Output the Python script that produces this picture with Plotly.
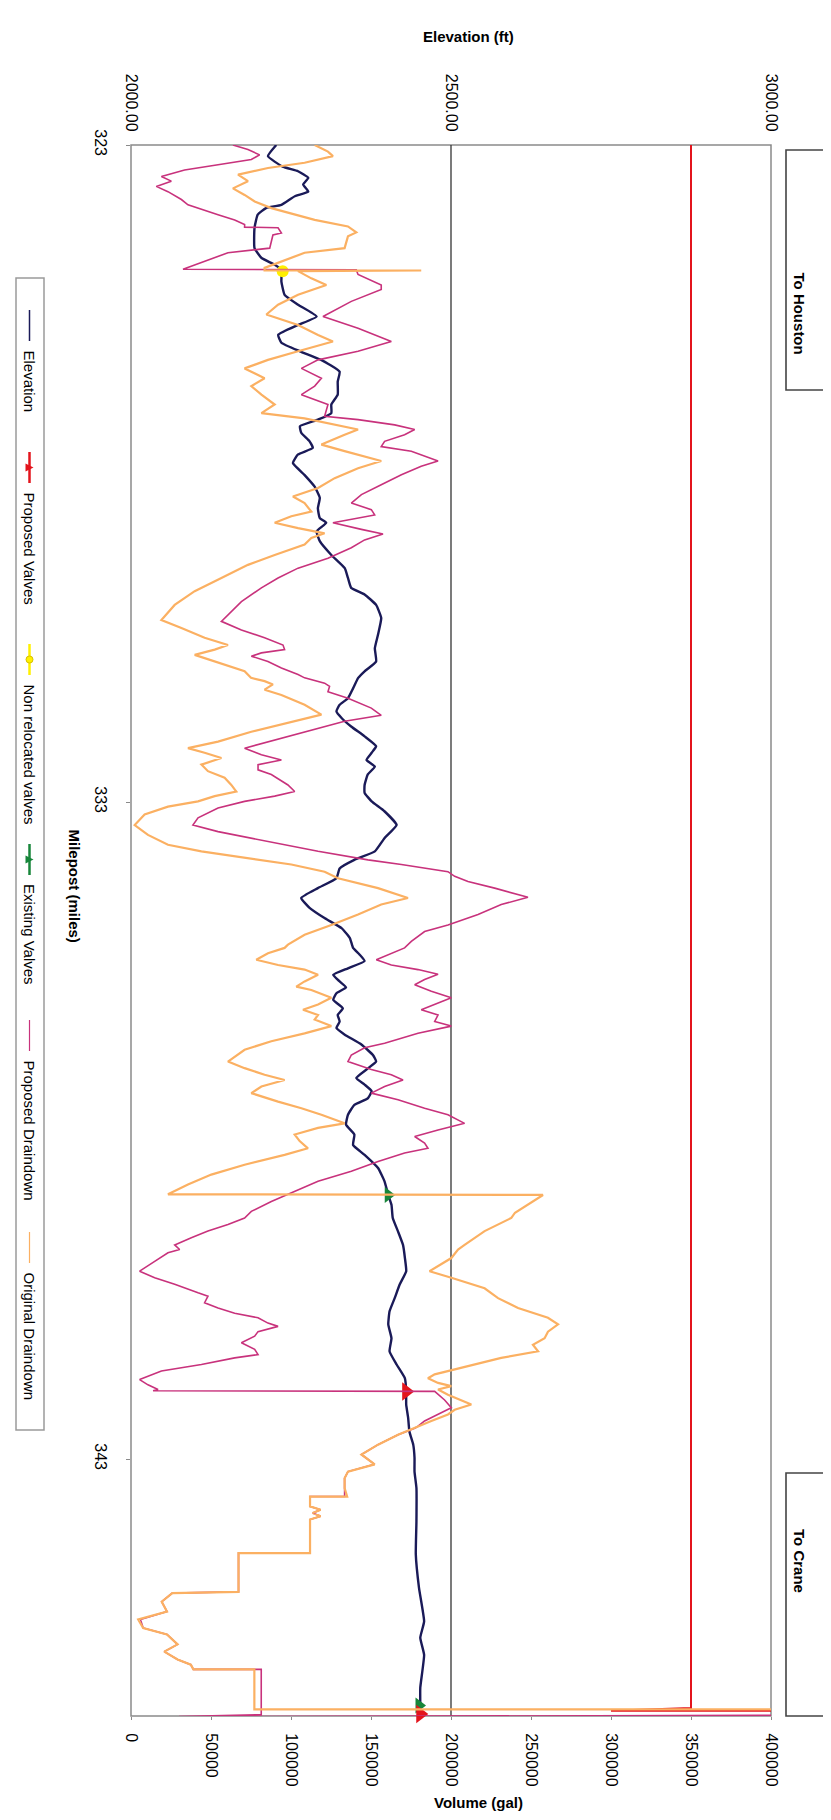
import plotly.graph_objects as go

FONT = "Liberation Sans, Arial, sans-serif"
BLACK = "black"

# ---- data ----
ELEV_MILE = [
    323.00, 323.17, 323.33, 323.40, 323.50, 323.60, 323.71, 323.78, 323.91, 323.96,
    324.06, 324.26, 324.57, 324.72, 324.82, 324.90, 325.08, 325.28, 325.43, 325.61,
    325.74, 325.89, 326.01, 326.14, 326.27, 326.45, 326.60, 326.80, 326.95, 327.08,
    327.18, 327.28, 327.38, 327.51, 327.61, 327.71, 327.84, 328.02, 328.20, 328.37,
    328.53, 328.68, 328.75, 328.88, 329.03, 329.24, 329.44, 329.59, 329.74, 329.84,
    330.00, 330.20, 330.45, 330.66, 330.86, 331.01, 331.11, 331.27, 331.42, 331.52,
    331.62, 331.72, 331.85, 332.00, 332.15, 332.25, 332.36, 332.46, 332.58, 332.74,
    332.86, 332.99, 333.14, 333.35, 333.55, 333.75, 333.88, 334.01, 334.16, 334.31,
    334.46, 334.61, 334.77, 334.92, 335.07, 335.22, 335.32, 335.42, 335.53, 335.63,
    335.73, 335.82, 335.91, 336.01, 336.14, 336.24, 336.34, 336.44, 336.54, 336.69,
    336.85, 336.95, 337.07, 337.20, 337.30, 337.40, 337.51, 337.61, 337.76, 337.91,
    338.06, 338.22, 338.37, 338.57, 338.77, 338.98, 339.13, 339.33, 339.53, 339.74,
    339.94, 340.14, 340.34, 340.55, 340.75, 340.95, 341.16, 341.36, 341.56, 341.77,
    341.97, 342.17, 342.37, 342.58, 342.78, 342.98, 343.19, 343.44, 343.95, 344.45,
    344.96, 345.47, 345.72, 345.98, 346.48, 346.74,
]
ELEV_FT = [
    2227, 2214, 2237, 2261, 2277, 2269, 2277, 2256, 2235, 2211,
    2198, 2193, 2193, 2204, 2224, 2235, 2235, 2240, 2261, 2290,
    2261, 2230, 2235, 2264, 2297, 2326, 2323, 2323, 2313, 2313,
    2292, 2264, 2266, 2279, 2284, 2261, 2253, 2271, 2287, 2295,
    2292, 2295, 2305, 2290, 2295, 2313, 2334, 2339, 2344, 2365,
    2383, 2391, 2386, 2381, 2383, 2365, 2355, 2347, 2339, 2326,
    2321, 2329, 2344, 2365, 2383, 2376, 2368, 2381, 2370, 2365,
    2365, 2376, 2396, 2415, 2396, 2381, 2349, 2326, 2321, 2292,
    2266, 2279, 2303, 2329, 2342, 2347, 2357, 2365, 2339, 2316,
    2326, 2336, 2321, 2316, 2331, 2323, 2326, 2321, 2334, 2360,
    2378, 2383, 2368, 2352, 2365, 2376, 2370, 2349, 2339, 2336,
    2349, 2347, 2365, 2386, 2396, 2402, 2407, 2409, 2417, 2425,
    2428, 2430, 2420, 2412, 2404, 2402, 2407, 2404, 2415, 2428,
    2430, 2430, 2433, 2435, 2441, 2443, 2443, 2446, 2446, 2445,
    2450, 2458, 2452, 2458, 2452, 2452,
]

# Proposed draindown, thousand gallons
PROP_MILE = [
    323.00, 323.07, 323.15, 323.22, 323.30, 323.38, 323.48, 323.55, 323.63, 323.71,
    323.83, 323.91, 324.06, 324.14, 324.21, 324.25, 324.26, 324.34, 324.37, 324.57,
    324.64, 324.77, 324.89, 324.90, 324.97, 325.13, 325.20, 325.38, 325.61, 325.79,
    325.99, 326.14, 326.27, 326.40, 326.55, 326.67, 326.80, 326.95, 327.13, 327.18,
    327.26, 327.33, 327.41, 327.51, 327.59, 327.66, 327.81, 327.89, 328.02, 328.17,
    328.32, 328.45, 328.55, 328.63, 328.70, 328.75, 328.85, 328.92, 329.01, 329.13,
    329.29, 329.44, 329.59, 329.74, 329.95, 330.10, 330.25, 330.38, 330.50, 330.61,
    330.68, 330.73, 330.78, 330.86, 330.96, 331.06, 331.11, 331.19, 331.24, 331.32,
    331.42, 331.57, 331.68, 331.77, 331.93, 332.08, 332.18, 332.28, 332.36, 332.43,
    332.51, 332.58, 332.74, 332.84, 332.91, 332.99, 333.09, 333.24, 333.35, 333.45,
    333.55, 333.65, 333.75, 333.88, 333.95, 334.06, 334.13, 334.21, 334.31, 334.45,
    334.56, 334.71, 334.87, 334.97, 335.12, 335.22, 335.30, 335.40, 335.48, 335.55,
    335.62, 335.70, 335.78, 335.88, 335.98, 336.08, 336.16, 336.24, 336.34, 336.41,
    336.52, 336.67, 336.74, 336.85, 336.95, 337.07, 337.15, 337.23, 337.33, 337.43,
    337.53, 337.66, 337.76, 337.89, 337.94, 337.99, 338.09, 338.19, 338.27, 338.34,
    338.47, 338.62, 338.77, 338.93, 339.08, 339.23, 339.33, 339.43, 339.53, 339.63,
    339.74, 339.81, 339.86, 339.99, 340.14, 340.24, 340.34, 340.47, 340.52, 340.62,
    340.70, 340.78, 340.85, 340.93, 340.98, 341.06, 341.13, 341.23, 341.33, 341.41,
    341.46, 341.56, 341.66, 341.79, 341.87, 341.94, 341.96, 341.97, 342.10, 342.22,
    342.32, 342.42, 342.50, 342.53, 342.63, 342.78, 342.93, 343.08, 343.19, 343.29,
    343.57, 343.57, 343.72, 343.77, 343.82, 343.87, 343.92, 344.43, 344.43, 345.02,
    345.04, 345.17, 345.32, 345.44, 345.57, 345.67, 345.82, 345.93, 346.05, 346.13,
    346.20, 346.20, 346.89, 346.92, 346.90,
]
PROP_KGAL = [
    63.7, 73.1, 80.4, 75.2, 54.4, 33.5, 19.0, 25.2, 15.8, 23.1,
    31.5, 35.6, 54.4, 64.8, 71.0, 71.0, 91.9, 94.0, 88.7, 86.7,
    60.6, 46.0, 32.5, 140.8, 141.9, 156.4, 156.4, 137.7, 120.0, 141.9,
    162.7, 141.9, 116.9, 106.5, 119.0, 114.8, 106.5, 123.1, 121.0, 141.9,
    164.8, 177.3, 171.0, 158.5, 156.4, 175.2, 191.9, 181.4, 169.0, 156.4,
    144.0, 137.7, 150.2, 152.3, 135.6, 126.2, 144.0, 157.5, 146.0, 137.7,
    123.1, 104.4, 91.9, 81.5, 69.0, 62.7, 56.5, 69.0, 83.5, 95.0,
    96.0, 81.5, 75.2, 85.6, 94.0, 104.4, 108.5, 121.0, 124.1, 123.1,
    135.6, 150.2, 156.4, 133.5, 108.5, 85.6, 71.0, 81.5, 94.0, 79.4,
    79.4, 87.7, 98.1, 102.3, 89.8, 71.0, 54.4, 41.9, 38.7, 54.4,
    75.2, 96.0, 116.9, 148.1, 169.0, 198.1, 202.3, 210.6, 227.3, 248.1,
    231.4, 216.9, 198.1, 183.5, 175.2, 171.0, 162.7, 153.3, 162.7, 179.4,
    191.9, 183.5, 177.3, 187.7, 200.2, 189.8, 181.4, 191.9, 189.8, 200.2,
    179.4, 158.5, 146.0, 137.7, 135.6, 150.2, 162.7, 170.0, 158.5, 150.2,
    166.9, 183.5, 198.1, 208.5, 200.2, 191.9, 177.3, 183.5, 185.6, 171.0,
    154.4, 137.7, 116.9, 102.3, 87.7, 75.2, 71.0, 60.6, 48.1, 37.7,
    27.3, 30.4, 23.1, 14.8, 5.4, 14.8, 27.3, 41.9, 48.1, 46.0,
    54.4, 64.8, 79.4, 85.6, 91.9, 79.4, 77.3, 69.0, 77.3, 79.4,
    64.8, 44.0, 19.0, 5.4, 10.6, 16.9, 13.8, 189.8, 196.0, 200.2,
    191.9, 183.5, 179.4, 177.3, 166.9, 154.4, 144.0, 152.3, 135.6, 133.5,
    133.5, 111.9, 111.9, 118.5, 113.6, 118.5, 111.9, 111.9, 67.2, 67.2,
    25.8, 19.2, 22.5, 5.9, 7.6, 22.5, 29.1, 20.8, 29.1, 37.4,
    39.0, 81.4, 81.4, 30.0, 400.0,
]

# Original draindown, thousand gallons
ORIG_MILE = [
    323.00, 323.10, 323.17, 323.27, 323.35, 323.45, 323.55, 323.66, 323.76, 323.86,
    323.96, 324.09, 324.14, 324.24, 324.33, 324.39, 324.57, 324.64, 324.77, 324.87,
    324.91, 324.91, 324.92, 325.03, 325.13, 325.28, 325.43, 325.58, 325.74, 325.89,
    325.99, 326.14, 326.27, 326.40, 326.55, 326.67, 326.80, 326.95, 327.08, 327.16,
    327.26, 327.33, 327.41, 327.56, 327.66, 327.81, 327.92, 328.07, 328.22, 328.35,
    328.45, 328.58, 328.65, 328.75, 328.83, 328.91, 328.98, 329.08, 329.24, 329.39,
    329.59, 329.79, 330.00, 330.23, 330.35, 330.50, 330.61, 330.68, 330.76, 330.86,
    331.01, 331.11, 331.16, 331.21, 331.29, 331.37, 331.52, 331.67, 331.77, 331.93,
    332.08, 332.18, 332.25, 332.33, 332.43, 332.53, 332.63, 332.74, 332.84, 332.91,
    332.99, 333.07, 333.19, 333.35, 333.50, 333.65, 333.75, 333.85, 333.95, 334.06,
    334.16, 334.31, 334.46, 334.56, 334.71, 334.87, 335.02, 335.17, 335.22, 335.30,
    335.40, 335.48, 335.55, 335.63, 335.73, 335.81, 335.86, 335.98, 336.08, 336.16,
    336.24, 336.31, 336.41, 336.52, 336.64, 336.77, 336.95, 337.05, 337.15, 337.23,
    337.33, 337.43, 337.56, 337.66, 337.76, 337.89, 337.96, 338.06, 338.16, 338.27,
    338.37, 338.52, 338.67, 338.82, 338.97, 338.98, 339.25, 339.33, 339.53, 339.74,
    339.81, 339.94, 340.14, 340.24, 340.40, 340.55, 340.70, 340.85, 340.95, 341.06,
    341.16, 341.26, 341.36, 341.46, 341.61, 341.71, 341.77, 341.84, 341.89, 341.94,
    342.02, 342.10, 342.17, 342.25, 342.32, 342.42, 342.53, 342.63, 342.78, 342.93,
    343.08, 343.19, 343.29, 343.44, 343.57, 343.57, 343.72, 343.77, 343.82, 343.87,
    343.92, 344.43, 344.43, 345.02, 345.04, 345.17, 345.32, 345.44, 345.57, 345.67,
    345.82, 345.93, 346.05, 346.13, 346.20, 346.20, 346.81, 346.81,
]
ORIG_KGAL = [
    114.8, 123.1, 126.2, 108.5, 85.6, 66.9, 73.1, 63.7, 71.0, 77.3,
    87.7, 108.5, 114.8, 135.6, 140.8, 135.6, 133.5, 108.5, 94.0, 83.5,
    83.5, 181.4, 104.4, 112.7, 122.1, 104.4, 91.9, 84.6, 104.4, 116.9,
    126.2, 104.4, 85.6, 71.0, 83.5, 75.2, 81.5, 89.8, 81.5, 108.5,
    129.4, 141.9, 133.5, 119.0, 133.5, 156.4, 141.9, 127.3, 116.9, 101.2,
    108.5, 112.7, 100.2, 89.8, 104.4, 121.0, 112.7, 108.5, 89.8, 73.1,
    56.5, 39.8, 27.3, 19.0, 31.5, 46.0, 60.6, 52.3, 39.8, 52.3,
    71.0, 75.0, 83.5, 88.7, 83.5, 94.0, 108.5, 119.0, 102.3, 75.2,
    54.4, 35.6, 46.0, 56.5, 44.0, 48.1, 58.5, 62.7, 65.8, 52.3,
    41.9, 23.1, 8.5, 2.3, 10.6, 23.1, 44.0, 71.0, 100.2, 121.0,
    129.4, 154.4, 173.1, 156.4, 141.9, 125.2, 108.5, 98.1, 96.0, 85.6,
    78.3, 91.9, 108.5, 116.9, 108.5, 103.3, 112.7, 125.2, 116.9, 107.5,
    116.9, 114.8, 125.2, 108.5, 87.7, 71.0, 60.6, 71.0, 83.5, 96.0,
    81.5, 75.2, 91.9, 106.5, 119.0, 133.5, 116.9, 102.3, 105.4, 110.6,
    96.0, 71.0, 50.2, 35.6, 23.1, 257.5, 240.0, 237.7, 221.0, 208.5,
    204.4, 200.2, 186.6, 200.2, 221.0, 229.4, 241.9, 260.6, 266.9, 260.6,
    258.5, 251.2, 254.4, 231.4, 206.4, 189.8, 185.6, 191.9, 200.2, 191.9,
    198.1, 206.4, 212.7, 202.3, 198.1, 187.7, 177.3, 166.9, 154.4, 144.0,
    152.3, 135.6, 133.5, 133.5, 135.1, 111.9, 111.9, 118.5, 113.6, 118.5,
    111.9, 111.9, 67.2, 67.2, 25.8, 19.2, 22.5, 4.5, 7.6, 22.5,
    29.1, 20.8, 29.1, 37.4, 39.0, 77.1, 77.1, 400.0,
]

# Proposed valves reference line, thousand gallons
REDLINE_MILE = [323.0, 346.79, 346.83, 346.83]
REDLINE_KGAL = [350.0, 350.0, 300.0, 400.0]

# valve markers (plotted on the elevation scale)
NONRELOC_MILE = [324.92]
NONRELOC_FT = [2237]
EXISTING_MILE = [338.98, 346.75]
EXISTING_FT = [2402, 2450]
PROPOSED_MILE = [341.97, 346.88]
PROPOSED_FT = [2430, 2452]

ELEV_TICKS = [2000, 2500, 3000]
VOL_TICKS = [0, 50000, 100000, 150000, 200000, 250000, 300000, 350000, 400000]
MILE_TICKS = [323, 333, 343]

LEGEND_ITEMS = [
    "Elevation",
    "Proposed Valves",
    "Non relocated valves",
    "Existing Valves",
    "Proposed Draindown",
    "Original Draindown",
]

NAVY = "#1a1a58"
MAGENTA = "#c8327c"
ORANGE = "#fbb062"
RED = "#e3141c"
GREEN = "#17863a"
YELLOW = "#fff000"

# ---- page geometry (pixels) ----
W, H = 831, 1820
PL, PR, PT, PB = 123, 763, 137, 1708


def px(x):
    return (x - PL) / (PR - PL)


def py(y):
    return (PB - y) / (PB - PT)


fig = go.Figure()

fig.add_trace(go.Scatter(
    x=[v * 1000 for v in REDLINE_KGAL], y=REDLINE_MILE, xaxis="x2", yaxis="y",
    mode="lines", line=dict(color=RED, width=2), showlegend=False,
))
fig.add_trace(go.Scatter(
    x=[v * 1000 for v in PROP_KGAL], y=PROP_MILE, xaxis="x2", yaxis="y",
    mode="lines", line=dict(color=MAGENTA, width=1.6), showlegend=False,
))
fig.add_trace(go.Scatter(
    x=[v * 1000 for v in ORIG_KGAL], y=ORIG_MILE, xaxis="x2", yaxis="y",
    mode="lines", line=dict(color=ORANGE, width=2.2), showlegend=False,
))
fig.add_trace(go.Scatter(
    x=ELEV_FT, y=ELEV_MILE, xaxis="x", yaxis="y",
    mode="lines", line=dict(color=NAVY, width=2.4, shape="spline", smoothing=0.4),
    showlegend=False,
))
fig.add_trace(go.Scatter(
    x=NONRELOC_FT, y=NONRELOC_MILE, xaxis="x", yaxis="y", mode="markers",
    marker=dict(symbol="circle", size=12, color=YELLOW), showlegend=False,
    cliponaxis=False,
))
fig.add_trace(go.Scatter(
    x=EXISTING_FT, y=EXISTING_MILE, xaxis="x", yaxis="y", mode="markers",
    marker=dict(symbol="triangle-right", size=14, color=GREEN), showlegend=False,
    cliponaxis=False,
))
fig.add_trace(go.Scatter(
    x=PROPOSED_FT, y=PROPOSED_MILE, xaxis="x", yaxis="y", mode="markers",
    marker=dict(symbol="triangle-right", size=16, color=RED), showlegend=False,
    cliponaxis=False,
))

shapes = []
annotations = []

# plot frame and gridline
shapes.append(dict(type="rect", xref="paper", yref="paper", x0=0, x1=1, y0=0, y1=1,
                   line=dict(color="#8a8a8a", width=1.5), layer="below"))
shapes.append(dict(type="line", xref="x", yref="paper", x0=2500, x1=2500, y0=0, y1=1,
                   line=dict(color="#333333", width=1.3), layer="below"))

# direction boxes on the right
for label, y0, y1 in [("To Houston", 142, 382), ("To Crane", 1465, 1708)]:
    shapes.append(dict(type="rect", xref="paper", yref="paper",
                       x0=px(778), x1=px(826), y0=py(y0), y1=py(y1),
                       line=dict(color="#444444", width=1.6), fillcolor="white"))
    annotations.append(dict(x=px(802), y=py((y0 + y1) / 2), xref="paper", yref="paper",
                            text=f"<b>{label}</b>", showarrow=False, textangle=90,
                            font=dict(family=FONT, size=15, color=BLACK)))

# legend (rotated with the chart)
shapes.append(dict(type="rect", xref="paper", yref="paper",
                   x0=px(8), x1=px(36), y0=py(270), y1=py(1422),
                   line=dict(color="#9a9a9a", width=1.5), fillcolor="white"))
LEG_X = 21.5
leg_starts = [302, 444, 636, 836, 1012, 1224]
leg_colors = [NAVY, RED, YELLOW, GREEN, MAGENTA, ORANGE]
leg_widths = [1.5, 2.5, 2.5, 2.5, 1.2, 1.2]


def tri_path(xc, yc, s):
    pts = [(xc - s / 2, yc - s / 2), (xc + s / 2, yc), (xc - s / 2, yc + s / 2)]
    return "M " + " L ".join(f"{px(a):.5f},{py(b):.5f}" for a, b in pts) + " Z"


for name, s0, col, lw in zip(LEGEND_ITEMS, leg_starts, leg_colors, leg_widths):
    shapes.append(dict(type="line", xref="paper", yref="paper",
                       x0=px(LEG_X), x1=px(LEG_X), y0=py(s0), y1=py(s0 + 31),
                       line=dict(color=col, width=lw)))
    mid = s0 + 15.5
    if name == "Proposed Valves":
        shapes.append(dict(type="path", xref="paper", yref="paper",
                           path=tri_path(LEG_X, mid, 8), fillcolor=RED, line=dict(width=0)))
    elif name == "Existing Valves":
        shapes.append(dict(type="path", xref="paper", yref="paper",
                           path=tri_path(LEG_X, mid, 8), fillcolor=GREEN, line=dict(width=0)))
    elif name == "Non relocated valves":
        shapes.append(dict(type="circle", xref="paper", yref="paper",
                           x0=px(LEG_X - 3.5), x1=px(LEG_X + 3.5), y0=py(mid - 3.5), y1=py(mid + 3.5),
                           line=dict(color="#d8c000", width=1), fillcolor=YELLOW))
    annotations.append(dict(x=px(LEG_X), y=py(s0 + 38), xref="paper", yref="paper",
                            text=name, showarrow=False, textangle=90,
                            xanchor="center", yanchor="top",
                            font=dict(family=FONT, size=15, color=BLACK)))

# axis titles
annotations.append(dict(x=px(460), y=py(18), xref="paper", yref="paper",
                        text="<b>Elevation (ft)</b>", showarrow=False,
                        font=dict(family=FONT, size=15, color=BLACK)))
annotations.append(dict(x=px(470), y=py(1805), xref="paper", yref="paper",
                        text="<b>Volume (gal)</b>", showarrow=False,
                        font=dict(family=FONT, size=15, color=BLACK)))
annotations.append(dict(x=px(56), y=py(878), xref="paper", yref="paper",
                        text="<b>Milepost (miles)</b>", showarrow=False, textangle=90,
                        font=dict(family=FONT, size=15, color=BLACK)))

tick_font = dict(family=FONT, size=16, color=BLACK)

fig.update_layout(
    width=W,
    height=H,
    margin=dict(l=PL, r=W - PR, t=PT, b=H - PB),
    paper_bgcolor="white",
    plot_bgcolor="white",
    showlegend=False,
    shapes=shapes,
    annotations=annotations,
    xaxis=dict(
        domain=[0, 1], side="top", anchor="y", range=[2000, 3000],
        tickvals=ELEV_TICKS, ticktext=[f"{v:.2f}" for v in ELEV_TICKS],
        tickangle=90, tickfont=tick_font, showgrid=False, zeroline=False,
        showline=False, ticks="", ticklabelstandoff=10,
    ),
    xaxis2=dict(
        overlaying="x", side="bottom", anchor="y", range=[0, 400000],
        tickvals=VOL_TICKS, ticktext=[str(v) for v in VOL_TICKS],
        tickangle=90, tickfont=tick_font, showgrid=False, zeroline=False,
        showline=False, ticks="outside", ticklen=3, tickcolor="#8a8a8a",
        ticklabelstandoff=10,
    ),
    yaxis=dict(
        range=[346.91, 323], tickvals=MILE_TICKS, ticktext=[str(v) for v in MILE_TICKS],
        tickangle=90, tickfont=tick_font, showgrid=False, zeroline=False,
        showline=False, ticks="outside", ticklen=4, tickcolor="#8a8a8a",
        ticklabelstandoff=12,
    ),
)

fig.write_html("out.html")
